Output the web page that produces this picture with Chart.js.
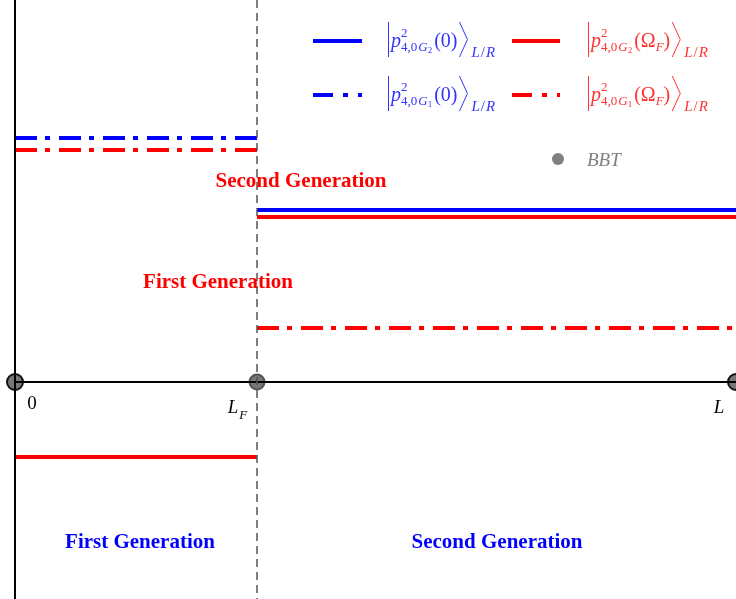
<!DOCTYPE html>
<html>
<head>
<meta charset="utf-8">
<script src="https://cdn.jsdelivr.net/npm/chart.js@4/dist/chart.umd.min.js"></script>
<style>
  html, body { margin: 0; padding: 0; background: #fff; }
  #wrap { width: 736px; height: 599px; }
</style>
</head>
<body>
<div id="wrap"><canvas id="c"></canvas></div>
<script>
// x positions of the region boundaries (0, L_F, L)
const xTicks = [0, 1.007, 3];
const xTickLabels = ['0', 'L', 'L'];
const xTickSubs = ['', 'F', ''];

// state values on the left (0..L_F) and right (L_F..L) regions
const blueG1 = [2.44, null];
const redG1 = [2.32, 0.54];
const blueG2 = [null, 1.72];
const redG2 = [-0.75, 1.65];

const yMin = -2.17, yMax = 3.82;

const redLabels = ['Second Generation', 'First Generation'];
const blueLabels = ['First Generation', 'Second Generation'];

const BLUE = '#0000ff', RED = '#ff0000';
const DASHDOT = [22, 8, 5, 9];
const SERIF = '"Liberation Serif", "DejaVu Serif", serif';

function segments(vals) {
    const pts = [];
    vals.forEach((v, i) => {
        if (v === null) return;
        if (pts.length) pts.push({ x: xTicks[i], y: null });
        pts.push({ x: xTicks[i], y: v }, { x: xTicks[i + 1], y: v });
    });
    return pts;
}

function lineSet(vals, color, dash) {
    return {
        data: segments(vals),
        borderColor: color,
        borderWidth: 4,
        borderDash: dash,
        borderCapStyle: 'butt',
        pointRadius: 0,
        spanGaps: false,
        clip: false,
        order: 1
    };
}

function put(ctx, txt, font, x, y) {
    ctx.font = font;
    ctx.fillText(txt, x, y);
    return x + ctx.measureText(txt).width;
}

// draws |p^2_{4,0G_n}(arg)>_{L/R}, y = main baseline
function drawKet(ctx, x, y, color, gen, arg, sub) {
    ctx.save();
    ctx.fillStyle = color;
    ctx.strokeStyle = color;
    ctx.lineWidth = 1;
    ctx.textBaseline = 'alphabetic';
    ctx.textAlign = 'left';
    // left bar
    ctx.beginPath();
    ctx.moveTo(x + 0.5, y - 25);
    ctx.lineTo(x + 0.5, y + 10);
    ctx.stroke();
    let cx = put(ctx, 'p', 'italic 20px ' + SERIF, x + 3, y);
    put(ctx, '2', '13px ' + SERIF, cx, y - 10);
    let sx = put(ctx, '4,0', '13px ' + SERIF, cx, y + 4);
    sx = put(ctx, 'G', 'italic 13px ' + SERIF, sx + 1, y + 4);
    sx = put(ctx, gen, '9px ' + SERIF, sx, y + 6);
    cx = put(ctx, '(', '20px ' + SERIF, sx + 2, y);
    cx = put(ctx, arg, '20px ' + SERIF, cx, y);
    if (sub) cx = put(ctx, sub, 'italic 13px ' + SERIF, cx, y + 4);
    cx = put(ctx, ')', '20px ' + SERIF, cx, y);
    // right angle bracket
    ctx.beginPath();
    ctx.moveTo(cx + 2, y - 25);
    ctx.lineTo(cx + 10, y - 7.5);
    ctx.lineTo(cx + 2, y + 10);
    ctx.stroke();
    let lx = put(ctx, 'L', 'italic 15px ' + SERIF, cx + 14, y + 10);
    lx = put(ctx, '/', '15px ' + SERIF, lx + 1, y + 10);
    put(ctx, 'R', 'italic 15px ' + SERIF, lx + 1, y + 10);
    ctx.restore();
}

function legendLine(ctx, x1, x2, y, color, dash) {
    ctx.save();
    ctx.strokeStyle = color;
    ctx.lineWidth = 4;
    ctx.setLineDash(dash);
    ctx.beginPath();
    ctx.moveTo(x1, y);
    ctx.lineTo(x2, y);
    ctx.stroke();
    ctx.restore();
}

const overlay = {
    id: 'overlay',
    afterDatasetsDraw(chart) {
        const ctx = chart.ctx;
        const xs = chart.scales.x, ys = chart.scales.y;
        const x0 = xs.getPixelForValue(xTicks[0]);
        const xF = xs.getPixelForValue(xTicks[1]);
        const xL = xs.getPixelForValue(xTicks[2]);
        const y0 = ys.getPixelForValue(0);
        const top = ys.getPixelForValue(yMax), bot = ys.getPixelForValue(yMin);
        ctx.save();
        // axes
        ctx.strokeStyle = '#000';
        ctx.lineWidth = 2;
        ctx.beginPath();
        ctx.moveTo(x0, top); ctx.lineTo(x0, bot);
        ctx.moveTo(x0, y0); ctx.lineTo(xL, y0);
        ctx.stroke();
        // L_F boundary
        ctx.strokeStyle = '#555';
        ctx.lineWidth = 1.5;
        ctx.setLineDash([8, 5]);
        ctx.beginPath();
        ctx.moveTo(xF, top); ctx.lineTo(xF, bot);
        ctx.stroke();
        ctx.setLineDash([]);

        // tick labels
        ctx.fillStyle = '#000';
        ctx.textBaseline = 'alphabetic';
        const offs = [17, -24, -17];
        xTickLabels.forEach((t, i) => {
            const px = xs.getPixelForValue(xTicks[i]) + offs[i];
            ctx.font = (i === 0 ? '' : 'italic ') + '19px ' + SERIF;
            ctx.textAlign = 'center';
            ctx.fillText(t, px, y0 + (i === 0 ? 27 : 31));
            if (xTickSubs[i]) {
                const w = ctx.measureText(t).width;
                ctx.font = 'italic 13px ' + SERIF;
                ctx.textAlign = 'left';
                ctx.fillText(xTickSubs[i], px + w / 2 + 1, y0 + 37);
            }
        });

        // region labels
        ctx.font = 'bold 21px ' + SERIF;
        ctx.textAlign = 'center';
        ctx.fillStyle = RED;
        ctx.fillText(redLabels[0], 301, 187);
        ctx.fillText(redLabels[1], 218, 288);
        ctx.fillStyle = BLUE;
        ctx.fillText(blueLabels[0], 140, 548);
        ctx.fillText(blueLabels[1], 497, 548);

        // legend
        legendLine(ctx, 313, 362, 41, BLUE, []);
        legendLine(ctx, 512, 560, 41, RED, []);
        legendLine(ctx, 313, 362, 95, BLUE, [20, 10, 5, 10]);
        legendLine(ctx, 512, 560, 95, RED, [20, 10, 5, 10]);
        drawKet(ctx, 388, 47, '#3333ff', '2', '0', '');
        drawKet(ctx, 588, 47, '#ff3333', '2', '\u03A9', 'F');
        drawKet(ctx, 388, 101, '#3333ff', '1', '0', '');
        drawKet(ctx, 588, 101, '#ff3333', '1', '\u03A9', 'F');
        ctx.fillStyle = '#808080';
        ctx.beginPath();
        ctx.arc(558, 159, 6, 0, Math.PI * 2);
        ctx.fill();
        ctx.font = 'italic 19px ' + SERIF;
        ctx.textAlign = 'left';
        ctx.fillText('BBT', 587, 166);
        ctx.restore();
    }
};

new Chart(document.getElementById('c'), {
    type: 'line',
    data: {
        datasets: [
            lineSet(blueG1, BLUE, DASHDOT),
            lineSet(redG1, RED, DASHDOT),
            lineSet(blueG2, BLUE, []),
            lineSet(redG2, RED, []),
            {
                data: xTicks.map(x => ({ x: x, y: 0 })),
                showLine: false,
                pointRadius: [8, 7.5, 8],
                pointBackgroundColor: '#777',
                pointBorderColor: ['#111', '#555', '#111'],
                pointBorderWidth: 2,
                clip: false,
                order: 2
            }
        ]
    },
    options: {
        responsive: true,
        maintainAspectRatio: false,
        animation: false,
        layout: { autoPadding: false, padding: { left: 15, right: 0, top: 0, bottom: 0 } },
        scales: {
            x: { type: 'linear', min: 0, max: 3, display: false },
            y: { type: 'linear', min: yMin, max: yMax, display: false }
        },
        plugins: { legend: { display: false }, tooltip: { enabled: false } }
    },
    plugins: [overlay]
});
</script>
</body>
</html>
